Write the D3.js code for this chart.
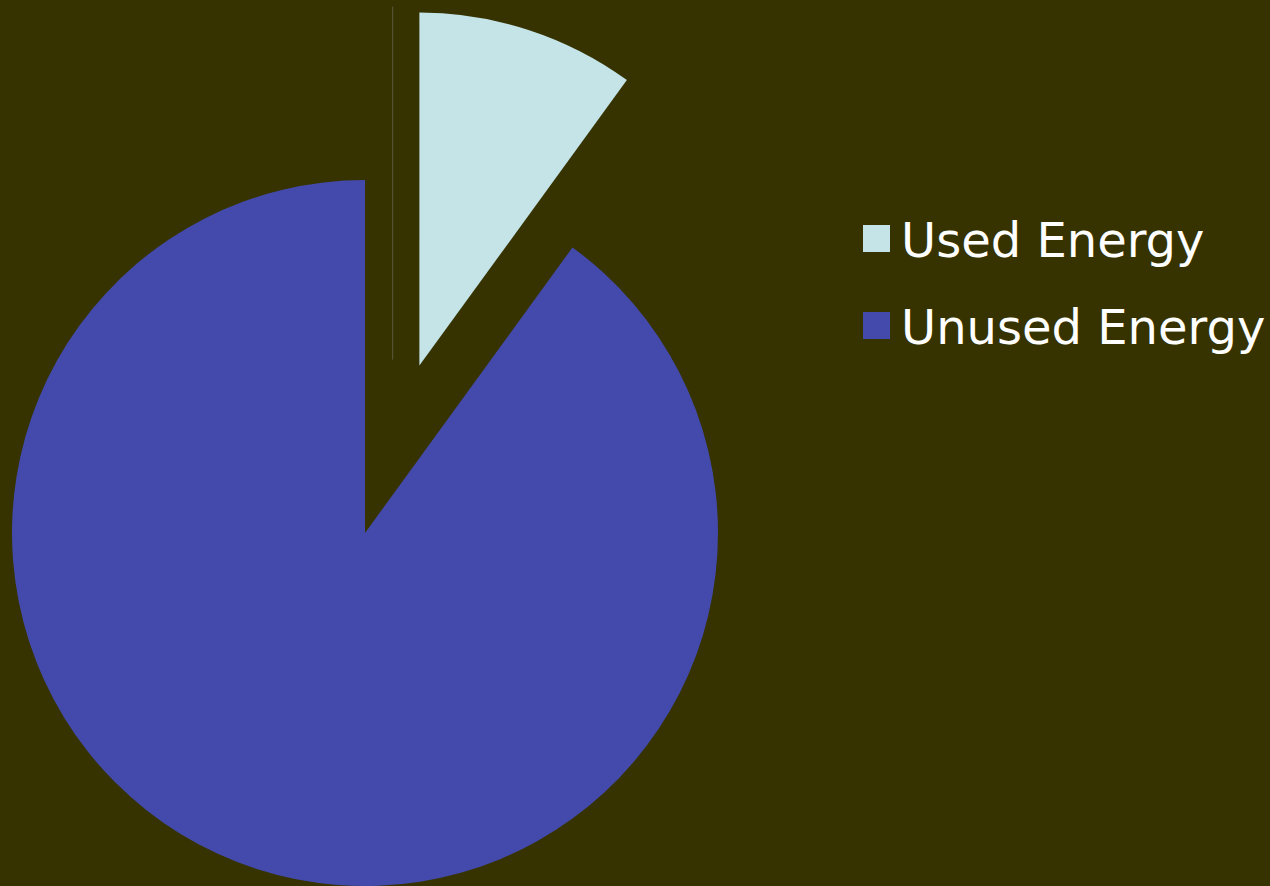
<!DOCTYPE html>
<html>
<head>
<meta charset="utf-8">
<script src="https://cdn.jsdelivr.net/npm/d3@7"></script>
<style>
  html, body { margin: 0; padding: 0; background: #363300; }
  svg { display: block; }
</style>
</head>
<body>
<div id="chart"></div>
<script>
// data
var categories = ["Used Energy", "Unused Energy"];
var values = [10, 90];
var colors = ["#c4e4e8", "#434aab"];

var width = 1270, height = 886;
var cx = 365, cy = 533, radius = 353;
var explode = 176;   // used slice pulled out

var svg = d3.select("#chart").append("svg")
    .attr("width", width)
    .attr("height", height)
;
svg.append("rect")
    .attr("width", width)
    .attr("height", height)
    .attr("fill", "#363300")
;

var color = d3.scaleOrdinal().domain(categories).range(colors);

var pie = d3.pie()
    .sort(null)
    .value(function(d) { return d.value; })
;
var arcs = pie(categories.map(function(c, i) { return { name: c, value: values[i] }; }));

var arc = d3.arc().innerRadius(0).outerRadius(radius);

function offset(d) {
    if (d.data.name !== "Used Energy") return [0, 0];
    var mid = (d.startAngle + d.endAngle) / 2;
    return [Math.sin(mid) * explode, -Math.cos(mid) * explode];
}

var g = svg.append("g").attr("transform", "translate(" + cx + "," + cy + ")");

// faint guide line left behind by the pulled-out slice
var used = arcs[0], uo = offset(used);
g.append("line")
    .attr("x1", uo[0] / 2 + 0.5)
    .attr("x2", uo[0] / 2 + 0.5)
    .attr("y1", uo[1] - radius - 6)
    .attr("y2", uo[1] - 6)
    .attr("stroke", "#5c5a3c")
    .attr("stroke-width", 1)
;

g.selectAll("path.slice")
    .data(arcs)
  .enter().append("path")
    .attr("class", "slice")
    .attr("d", arc)
    .attr("fill", function(d) { return color(d.data.name); })
    .attr("transform", function(d) {
        var o = offset(d);
        return "translate(" + o[0] + "," + o[1] + ")";
      })
;

// legend
var legend = svg.append("g").attr("transform", "translate(863,225)");
var row = legend.selectAll("g")
    .data(categories)
  .enter().append("g")
    .attr("transform", function(d, i) { return "translate(0," + (i * 87) + ")"; })
;
row.append("rect")
    .attr("width", 27)
    .attr("height", 27)
    .attr("fill", function(d) { return color(d); })
;
row.append("text")
    .attr("x", 38)
    .attr("y", 32)
    .attr("fill", "#ffffff")
    .style("font-family", "'DejaVu Sans', Verdana, sans-serif")
    .style("font-size", "48px")
    .text(function(d) { return d; })
;
</script>
</body>
</html>
